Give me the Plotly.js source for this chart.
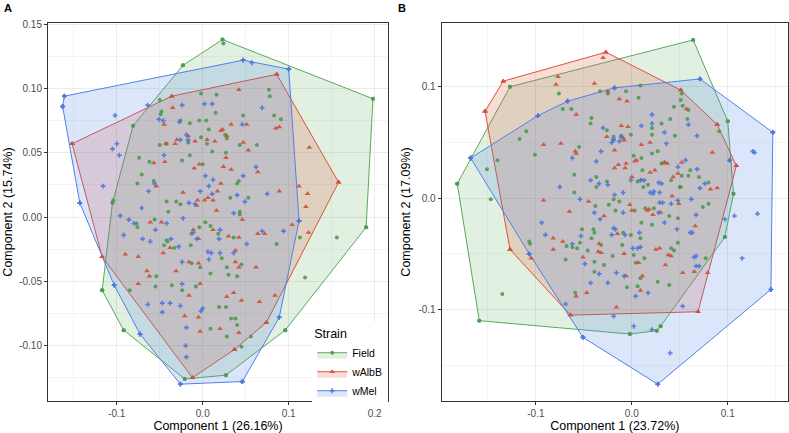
<!DOCTYPE html>
<html>
<head>
<meta charset="utf-8">
<script src="https://cdn.plot.ly/plotly-3.0.1.min.js"></script>
<style>
  body { margin: 0; background: #fff; }
  #chart { width: 789px; height: 433px; }
</style>
</head>
<body>
<div id="chart"></div>
<script>
// strains
let strains = ['Field', 'wAlbB', 'wMel'];

// panel A : PCA scores (component 1, component 2)
let aFieldX = [0.023,0.024,0.198,0.190,0.096,0.027,-0.021,-0.092,-0.117,-0.105,
  -0.081,-0.023,-0.002,0.016,0.077,0.078,-0.050,-0.048,-0.049,0.015,
  0.047,0.083,0.091,-0.015,-0.004,0.004,0.007,0.026,0.028,-0.026,
  -0.050,-0.042,-0.017,-0.002,0.005,0.011,0.027,0.043,0.063,0.000,
  -0.015,-0.024,-0.062,-0.074,-0.071,-0.076,-0.057,-0.042,-0.031,-0.026,
  -0.040,-0.056,-0.077,-0.076,-0.042,-0.041,-0.045,-0.033,-0.014,-0.013,
  -0.004,0.003,0.009,0.018,0.036,0.043,0.043,0.032,0.040,0.042,
  0.053,0.022,0.028,0.030,0.040,0.045,0.009,-0.003,-0.013,-0.008,
  -0.054,-0.055,-0.036,-0.024,0.019,0.027,0.033,0.040,0.038,0.009,
  0.028,0.056,0.045,0.086,0.113,0.119,0.156,-0.104,-0.085];
let aFieldY = [0.138,0.135,0.092,-0.008,-0.088,-0.123,-0.126,-0.088,-0.057,0.011,
  0.071,0.118,0.096,0.095,0.099,0.094,0.091,0.082,0.080,0.081,
  0.079,0.079,0.076,0.073,0.075,0.075,0.068,0.064,0.061,0.075,
  0.056,0.057,0.058,0.062,0.057,0.051,0.050,0.056,0.056,0.041,
  0.048,0.044,0.043,0.046,0.033,0.026,0.028,0.012,0.012,0.010,
  0.004,-0.002,-0.005,-0.008,-0.018,-0.019,-0.022,-0.024,-0.022,-0.013,
  -0.008,-0.004,-0.007,-0.013,-0.016,0.004,0.002,0.015,0.026,0.028,
  0.015,-0.032,-0.039,-0.045,-0.046,-0.037,-0.044,-0.039,-0.036,-0.054,
  -0.046,-0.054,-0.053,-0.057,-0.070,-0.070,-0.079,-0.084,-0.079,-0.087,
  -0.093,-0.093,-0.101,-0.021,-0.016,-0.047,-0.016,0.013,-0.057];

let aAlbBX = [0.086,0.158,0.074,0.037,-0.012,-0.117,-0.152,-0.036,
  0.042,-0.035,-0.045,0.033,0.051,0.023,0.021,0.028,0.005,0.014,
  -0.017,-0.030,-0.032,-0.043,-0.009,0.047,0.053,0.027,-0.004,-0.010,
  -0.044,-0.057,0.024,0.033,0.064,0.021,-0.054,-0.023,-0.006,0.002,
  0.006,0.012,0.017,-0.007,0.016,0.046,0.064,0.072,0.042,0.030,
  0.012,-0.011,-0.005,-0.061,-0.048,-0.075,-0.090,-0.065,-0.062,-0.046,
  -0.038,-0.016,-0.003,-0.016,-0.031,-0.005,0.038,0.042,0.038,0.062,
  0.028,0.036,0.045,0.066,0.084,-0.003,0.042,0.020,-0.021,-0.005,
  -0.075,0.089,0.089,0.085,0.112,0.122,0.120,0.123,0.104,0.124];
let aAlbBY = [0.111,0.027,-0.082,-0.103,-0.125,-0.031,0.057,0.094,
  0.099,0.085,0.072,0.072,0.072,0.068,0.067,0.063,0.060,0.059,
  0.063,0.060,0.057,0.057,0.059,0.058,0.052,0.046,0.041,0.038,
  0.043,0.042,0.039,0.037,0.035,0.026,0.024,0.019,0.013,0.013,
  0.015,0.013,0.020,0.009,0.005,-0.002,-0.013,-0.013,-0.016,-0.015,
  -0.010,-0.010,-0.017,-0.004,-0.004,-0.031,-0.029,-0.042,-0.046,-0.028,
  -0.024,-0.035,-0.052,-0.061,-0.042,-0.036,-0.035,-0.039,-0.026,-0.039,
  -0.062,-0.059,-0.065,-0.066,-0.061,-0.089,-0.090,-0.087,-0.077,-0.078,
  -0.052,0.020,0.070,0.069,0.024,0.018,0.008,-0.012,-0.006,0.054];

let aMelX = [-0.161,-0.163,-0.143,-0.103,-0.073,-0.026,0.046,0.089,0.112,0.100,0.047,0.057,
  0.002,0.011,-0.024,-0.051,-0.046,-0.027,0.069,0.046,-0.102,-0.100,
  -0.105,-0.097,-0.019,-0.017,-0.026,-0.045,-0.063,-0.056,-0.071,-0.116,
  -0.096,-0.086,-0.080,-0.070,-0.092,-0.042,-0.055,-0.061,-0.028,-0.037,
  -0.011,-0.007,-0.016,-0.009,-0.023,0.003,0.012,0.007,-0.003,0.011,
  0.040,0.049,0.075,0.047,0.062,0.036,0.069,0.051,0.094,0.020,
  0.006,0.007,0.020,-0.024,-0.024,-0.047,-0.047,-0.038,-0.026,-0.064,
  -0.002,0.000,-0.019,-0.020,-0.019,0.010,0.019,0.036,-0.064];
let aMelY = [0.094,0.086,0.011,-0.053,-0.091,-0.130,-0.128,-0.078,-0.003,0.115,0.122,0.120,
  0.088,0.088,0.087,0.076,0.075,0.074,0.085,0.072,0.079,0.057,
  0.053,0.048,0.064,0.060,0.060,0.048,0.020,0.026,0.007,0.024,
  0.001,-0.002,-0.005,-0.017,-0.014,-0.005,-0.010,-0.019,-0.023,-0.017,
  -0.012,-0.017,0.011,0.010,-0.001,0.032,0.029,0.024,0.020,0.018,
  0.017,0.012,0.018,0.032,0.039,0.003,-0.011,-0.021,-0.011,-0.010,
  -0.027,-0.033,-0.028,-0.035,-0.052,-0.067,-0.074,-0.067,-0.069,-0.068,
  -0.073,-0.071,-0.086,-0.100,-0.109,-0.028,-0.017,-0.028,0.087];

// panel B
let bFieldX = [0.064,0.100,0.106,0.097,0.030,0.026,-0.002,-0.159,-0.182,-0.127,
  -0.076,-0.072,-0.063,-0.042,-0.043,-0.117,-0.110,-0.055,-0.033,-0.025,
  -0.026,-0.006,0.007,0.009,-0.001,-0.011,-0.019,-0.019,0.052,0.053,
  0.051,0.044,0.040,0.058,0.059,0.045,0.031,0.021,0.021,0.021,
  0.027,0.010,0.002,0.011,0.034,0.031,0.041,0.052,0.059,0.061,
  0.070,0.080,0.080,0.074,0.050,0.051,0.017,0.012,0.006,-0.037,
  -0.037,-0.060,-0.060,-0.026,-0.019,-0.013,-0.038,-0.024,-0.017,0.003,
  0.014,0.010,0.023,0.039,0.048,0.021,-0.009,-0.001,0.009,-0.010,
  -0.040,-0.039,-0.042,-0.052,-0.062,-0.068,-0.054,-0.069,-0.057,-0.046,
  -0.032,-0.020,-0.039,-0.039,-0.029,0.002,0.004,0.013,0.009,-0.005,
  0.006,0.027,0.039,0.048,0.041,0.044,0.077,0.091,0.102,-0.107,
  -0.106,-0.059,-0.140,-0.151,-0.147,-0.135,-0.101];
let bFieldY = [0.142,0.069,0.004,-0.035,-0.115,-0.119,-0.122,-0.110,0.013,0.100,
  0.094,0.080,0.080,0.072,0.067,0.053,0.060,0.046,0.096,0.094,
  0.061,0.096,0.090,0.101,0.057,0.056,0.055,0.052,0.094,0.083,
  0.088,0.082,0.071,0.071,0.079,0.056,0.067,0.063,0.057,0.040,
  0.042,0.036,0.038,0.025,0.032,0.031,0.016,0.020,0.020,0.025,
  0.019,0.014,-0.005,-0.008,0.010,0.010,0.012,0.010,0.015,0.010,
  0.019,0.021,0.005,0.015,-0.001,-0.003,-0.007,-0.006,-0.011,-0.011,
  -0.009,-0.022,-0.009,-0.016,-0.018,-0.024,-0.031,-0.033,-0.036,-0.042,
  -0.028,-0.031,-0.036,-0.028,-0.044,-0.043,-0.040,-0.055,-0.045,-0.047,
  -0.042,-0.052,-0.057,-0.066,-0.060,-0.051,-0.058,-0.054,-0.072,-0.080,
  -0.079,-0.075,-0.078,-0.040,-0.045,-0.047,-0.054,0.060,0.034,-0.039,
  -0.041,-0.085,0.034,0.026,-0.001,-0.086,0.039];

let bAlbBX = [-0.027,0.051,0.089,0.109,0.069,-0.064,-0.127,-0.153,-0.134,
  -0.030,-0.077,-0.079,-0.039,-0.025,-0.013,-0.005,-0.058,-0.074,-0.092,
  -0.059,-0.058,-0.026,-0.018,-0.011,-0.004,-0.009,-0.008,0.010,0.019,
  0.005,0.003,-0.018,-0.007,-0.014,-0.006,0.000,0.010,0.019,0.024,
  0.037,0.034,0.052,0.048,0.043,0.057,0.084,0.089,0.082,0.042,
  0.049,0.030,0.018,0.016,0.022,0.000,-0.002,-0.029,-0.045,-0.065,
  -0.092,-0.082,-0.082,-0.072,-0.051,-0.047,-0.058,-0.034,-0.032,-0.035,
  -0.015,-0.008,-0.006,0.007,0.011,0.009,0.035,0.025,0.029,0.038,
  0.041,0.053,0.065,0.066,0.079,-0.016,-0.105];
let bAlbBY = [0.131,0.097,0.066,0.029,-0.102,-0.105,-0.046,0.078,0.105,
  0.126,0.109,0.102,0.103,0.096,0.089,0.087,0.075,0.049,0.048,
  0.042,0.040,0.055,0.043,0.065,0.064,0.054,0.052,0.048,0.050,
  0.034,0.033,0.027,0.027,0.030,0.031,0.019,0.016,0.023,0.025,
  0.031,0.032,0.032,0.022,0.019,0.080,0.041,0.009,0.008,0.002,
  -0.005,-0.013,-0.010,-0.011,-0.015,-0.011,-0.006,-0.016,-0.003,-0.012,
  -0.002,-0.036,-0.046,-0.039,-0.053,-0.085,-0.088,-0.041,-0.049,-0.048,
  -0.032,-0.050,-0.070,-0.058,-0.070,-0.083,-0.060,-0.046,-0.045,-0.051,
  -0.052,-0.067,-0.066,-0.025,-0.067,-0.098,-0.054];

let bMelX = [0.071,0.147,0.145,0.027,-0.051,-0.168,-0.098,-0.067,-0.018,
  -0.030,-0.019,-0.021,-0.013,-0.011,0.010,0.021,0.034,0.036,0.059,
  0.068,0.021,-0.032,-0.037,-0.062,-0.075,-0.054,-0.043,-0.034,-0.025,
  -0.009,-0.018,-0.001,0.009,0.013,0.019,0.023,0.028,0.029,0.031,
  0.048,0.056,0.062,0.067,0.071,0.076,0.068,0.102,0.097,0.107,
  0.126,0.128,0.131,0.115,0.032,0.029,0.022,0.028,0.034,0.047,
  0.061,0.063,0.067,0.065,0.070,0.053,0.067,0.006,0.009,0.001,
  -0.007,0.008,-0.021,-0.019,-0.017,-0.033,-0.009,-0.039,-0.053,-0.062,
  -0.090,-0.094,-0.107,-0.049,-0.043,-0.034,-0.016,-0.008,0.004,-0.025,
  0.017,0.021,0.002,-0.019,-0.069,0.040,0.041,0.048];
let bMelY = [0.107,0.059,-0.082,-0.167,-0.125,0.036,0.074,0.087,0.099,
  0.063,0.053,0.050,0.051,0.055,0.065,0.075,0.059,0.049,0.066,
  0.056,0.067,0.042,0.033,0.036,0.010,-0.001,0.016,0.013,0.012,
  0.005,0.003,0.016,0.016,0.016,0.005,0.006,0.014,0.005,0.013,
  0.028,0.034,-0.001,-0.015,0.009,0.013,0.026,0.034,-0.019,-0.016,
  0.042,0.041,-0.014,-0.054,-0.004,-0.004,0.004,-0.013,-0.022,-0.028,
  -0.031,-0.031,-0.052,-0.053,-0.061,-0.097,-0.061,-0.045,-0.044,-0.045,
  -0.033,-0.031,-0.033,-0.027,-0.028,-0.019,-0.013,-0.013,-0.034,-0.041,
  -0.033,-0.022,-0.050,-0.059,-0.076,-0.068,-0.067,-0.070,-0.088,-0.076,
  -0.085,-0.118,-0.115,-0.106,-0.095,-0.139,-0.005,-0.002];

let aXTicks = [-0.1, 0, 0.1, 0.2];
let aXText = ['-0.1', '0.0', '0.1', '0.2'];
let aYTicks = [-0.1, -0.05, 0, 0.05, 0.1, 0.15];
let aYText = ['-0.10', '-0.05', '0.00', '0.05', '0.10', '0.15'];
let bTicks = [-0.1, 0, 0.1];
let bText = ['-0.1', '0.0', '0.1'];

let colors = ['#5aaa5a', '#de5236', '#5281e8'];
let pointColors = ['#4e9a50', '#cf4f35', '#4d74dc'];
let fills = ['rgba(90,170,90,0.18)', 'rgba(222,82,54,0.2)', 'rgba(82,129,232,0.2)'];
let symbols = ['circle', 'triangle-up', 'cross'];
let sizes = [4, 5, 4];

// convex hull (monotone chain), closed
function hull(xs, ys){
  let p = xs.map((x, i) => [x, ys[i]]).sort((a, b) => a[0] - b[0] || a[1] - b[1]);
  let cr = (o, a, b) => (a[0]-o[0])*(b[1]-o[1]) - (a[1]-o[1])*(b[0]-o[0]);
  let lo = [], up = [];
  for (let q of p){
    while (lo.length >= 2 && cr(lo[lo.length-2], lo[lo.length-1], q) <= 0) lo.pop();
    lo.push(q);
  }
  for (let q of p.slice().reverse()){
    while (up.length >= 2 && cr(up[up.length-2], up[up.length-1], q) <= 0) up.pop();
    up.push(q);
  }
  let h = lo.slice(0, -1).concat(up.slice(0, -1));
  h.push(h[0]);
  return h;
}

function marker(i){
  return {color: pointColors[i], symbol: symbols[i], size: sizes[i], opacity: 0.9, line: {width: 0}};
}

let panels = [
  {xa: 'x', ya: 'y', legend: true, data: [[aFieldX, aFieldY], [aAlbBX, aAlbBY], [aMelX, aMelY]]},
  {xa: 'x2', ya: 'y2', legend: false, data: [[bFieldX, bFieldY], [bAlbBX, bAlbBY], [bMelX, bMelY]]}
];

let traces = [];
panels.forEach(function(pn){
  pn.data.forEach(function(d, i){
    let h = hull(d[0], d[1]);
    traces.push({
      x: h.map(p => p[0]), y: h.map(p => p[1]),
      xaxis: pn.xa, yaxis: pn.ya,
      type: 'scatter', mode: 'lines+markers', fill: 'toself',
      fillcolor: fills[i], line: {color: colors[i], width: 1},
      marker: marker(i),
      name: strains[i], legendgroup: strains[i], showlegend: pn.legend,
      hoverinfo: 'skip'
    });
  });
  pn.data.forEach(function(d, i){
    traces.push({
      x: d[0], y: d[1], xaxis: pn.xa, yaxis: pn.ya,
      type: 'scatter', mode: 'markers',
      marker: marker(i),
      name: strains[i], legendgroup: strains[i], showlegend: false
    });
  });
});

let axisBase = {
  showline: true, mirror: true, linecolor: '#333333', linewidth: 1,
  ticks: 'outside', ticklen: 3, tickcolor: '#333333', tickwidth: 1,
  tickfont: {family: 'Liberation Sans, Arial, sans-serif', size: 10, color: '#4d4d4d'},
  showgrid: true, gridcolor: '#ebebeb', gridwidth: 1, zeroline: false,
  tickmode: 'array'
};
let titleFont = {family: 'Liberation Sans, Arial, sans-serif', size: 12.5, color: '#000'};

let layout = {
  width: 789, height: 433,
  margin: {l: 47.7, r: 0.7, t: 23, b: 32},
  paper_bgcolor: '#fff', plot_bgcolor: '#fff',
  font: {family: 'Liberation Sans, Arial, sans-serif'},
  xaxis: Object.assign({}, axisBase, {
    domain: [0, 0.4595], range: [-0.180, 0.2155], anchor: 'y',
    tickvals: aXTicks, ticktext: aXText,
    minor: {tickmode: 'array', tickvals: [-0.15, -0.05, 0.05, 0.15], showgrid: true, gridcolor: '#f4f4f4', gridwidth: 1, ticks: ''},
    title: {text: 'Component 1 (26.16%)', font: titleFont, standoff: 4}
  }),
  yaxis: Object.assign({}, axisBase, {
    domain: [0, 1], range: [-0.1431, 0.1509], anchor: 'x',
    tickvals: aYTicks, ticktext: aYText,
    minor: {tickmode: 'array', tickvals: [-0.125, -0.075, -0.025, 0.025, 0.075, 0.125], showgrid: true, gridcolor: '#f4f4f4', gridwidth: 1, ticks: ''},
    title: {text: 'Component 2 (15.74%)', font: titleFont, standoff: 3}
  }),
  xaxis2: Object.assign({}, axisBase, {
    domain: [0.532, 1], range: [-0.1982, 0.1628], anchor: 'y2',
    tickvals: bTicks, ticktext: bText,
    minor: {tickmode: 'array', tickvals: [-0.15, -0.05, 0.05, 0.15], showgrid: true, gridcolor: '#f4f4f4', gridwidth: 1, ticks: ''},
    title: {text: 'Component 1 (23.72%)', font: titleFont, standoff: 4}
  }),
  yaxis2: Object.assign({}, axisBase, {
    domain: [0, 1], range: [-0.1821, 0.1572], anchor: 'x2',
    tickvals: bTicks, ticktext: bText,
    minor: {tickmode: 'array', tickvals: [-0.15, -0.05, 0.05], showgrid: true, gridcolor: '#f4f4f4', gridwidth: 1, ticks: ''},
    title: {text: 'Component 2 (17.09%)', font: titleFont, standoff: 5}
  }),
  showlegend: true,
  legend: {
    x: 0.357, y: 0.209, xanchor: 'left', yanchor: 'top',
    bgcolor: '#ffffff', borderwidth: 0,
    title: {text: 'Strain', font: {size: 12.5, color: '#000'}},
    font: {size: 10.5, color: '#000'},
    tracegroupgap: 0, itemwidth: 30
  },
  annotations: [
    {text: '<b>A</b>', xref: 'paper', yref: 'paper', x: -0.062, y: 1.04, xanchor: 'left', yanchor: 'middle', showarrow: false, font: {size: 11, color: '#000'}},
    {text: '<b>B</b>', xref: 'paper', yref: 'paper', x: 0.47, y: 1.04, xanchor: 'left', yanchor: 'middle', showarrow: false, font: {size: 11, color: '#000'}}
  ]
};

Plotly.newPlot('chart', traces, layout, {displayModeBar: false, staticPlot: true});
</script>
</body>
</html>
